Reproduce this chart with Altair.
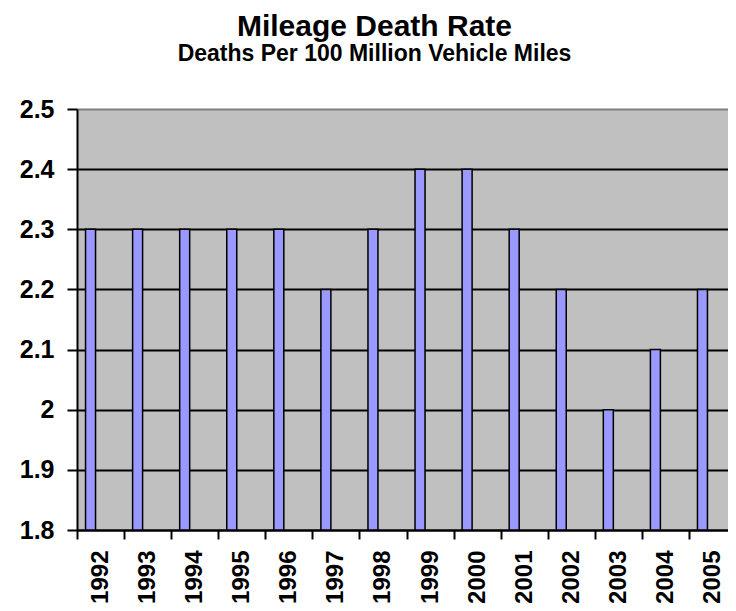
import altair as alt
import pandas as pd

years = ["1992", "1993", "1994", "1995", "1996", "1997", "1998",
         "1999", "2000", "2001", "2002", "2003", "2004", "2005"]
rates = [2.3, 2.3, 2.3, 2.3, 2.3, 2.2, 2.3, 2.4, 2.4, 2.3, 2.2, 2.0, 2.1, 2.2]
y_ticks = [1.8, 1.9, 2.0, 2.1, 2.2, 2.3, 2.4, 2.5]
y_base = 1.8

df = pd.DataFrame({"year": years, "rate": rates})

FONT = "Liberation Sans"

bars = alt.Chart(df).mark_bar(
    size=10, xOffset=-10, fill="#9999FF", stroke="black", strokeWidth=1.5
).encode(
    x=alt.X("year:N", sort=years,
            scale=alt.Scale(paddingInner=0, paddingOuter=0, range=[0, 659]),
            axis=alt.Axis(title=None, labelAngle=-90, tickBand="extent",
                          labelFont=FONT, labelFontSize=24, labelFontWeight="bold",
                          labelColor="black", labelPadding=11,
                          tickSize=9, tickWidth=2, tickColor="black",
                          domainColor="black", domainWidth=2, grid=False)),
    y=alt.Y("rate:Q",
            scale=alt.Scale(domain=[1.8, 2.5], nice=False, zero=False),
            axis=alt.Axis(title=None, values=y_ticks,
                          labelExpr="format(datum.value, '.2~f')",
                          labelFont=FONT, labelFontSize=25, labelFontWeight="bold",
                          labelColor="black", labelPadding=13,
                          tickSize=10, tickWidth=2, tickColor="black",
                          domainColor="black", domainWidth=2,
                          grid=True, gridWidth=2,
                          gridColor={"condition": {"test": "datum.value >= 2.45", "value": "#808080"},
                                     "value": "black"})),
    y2=alt.datum(y_base),
)

chart = bars.properties(
    width=651,
    height=421,
    autosize=alt.AutoSizeParams(type="none"),
    padding={"left": 69, "top": 101, "right": 0, "bottom": 73},
    title=alt.TitleParams(
        text="Mileage Death Rate",
        subtitle="Deaths Per 100 Million Vehicle Miles",
        font=FONT, fontSize=30, fontWeight="bold", color="black",
        subtitleFont=FONT, subtitleFontSize=23, subtitleFontWeight="bold",
        subtitleColor="black", subtitlePadding=1,
        anchor="middle", dx=-28, offset=31,
    ),
).configure_view(
    fill="#C0C0C0", strokeWidth=0
)

chart.save("out.html", embed_options={"renderer": "svg", "actions": False})
